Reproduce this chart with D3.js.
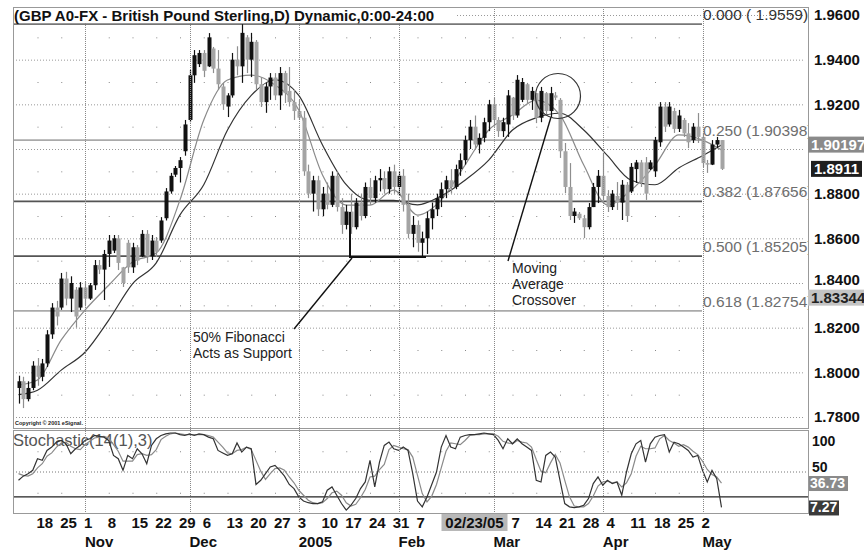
<!DOCTYPE html>
<html>
<head>
<meta charset="utf-8">
<script src="https://cdn.jsdelivr.net/npm/d3@7/dist/d3.min.js"></script>
<style>
body { margin: 0; background: #fff; }
svg { display: block; font-family: Arial, "Liberation Sans", sans-serif; }
</style>
</head>
<body>
<div id="root"></div>
<script>
// trading days (weekdays) shown on the chart
var dates = [
  "2004-10-12","2004-10-13","2004-10-14","2004-10-15","2004-10-18","2004-10-19","2004-10-20","2004-10-21","2004-10-22","2004-10-25","2004-10-26","2004-10-27","2004-10-28","2004-10-29",
  "2004-11-01","2004-11-02","2004-11-03","2004-11-04","2004-11-05","2004-11-08","2004-11-09","2004-11-10","2004-11-11","2004-11-12","2004-11-15","2004-11-16","2004-11-17","2004-11-18","2004-11-19","2004-11-22","2004-11-23","2004-11-24","2004-11-25","2004-11-26","2004-11-29","2004-11-30",
  "2004-12-01","2004-12-02","2004-12-03","2004-12-06","2004-12-07","2004-12-08","2004-12-09","2004-12-10","2004-12-13","2004-12-14","2004-12-15","2004-12-16","2004-12-17","2004-12-20","2004-12-21","2004-12-22","2004-12-23","2004-12-24","2004-12-27","2004-12-28","2004-12-29","2004-12-30","2004-12-31",
  "2005-01-03","2005-01-04","2005-01-05","2005-01-06","2005-01-07","2005-01-10","2005-01-11","2005-01-12","2005-01-13","2005-01-14","2005-01-17","2005-01-18","2005-01-19","2005-01-20","2005-01-21","2005-01-24","2005-01-25","2005-01-26","2005-01-27","2005-01-28","2005-01-31",
  "2005-02-01","2005-02-02","2005-02-03","2005-02-04","2005-02-07","2005-02-08","2005-02-09","2005-02-10","2005-02-11","2005-02-14","2005-02-15","2005-02-16","2005-02-17","2005-02-18","2005-02-21","2005-02-22","2005-02-23","2005-02-24","2005-02-25","2005-02-28",
  "2005-03-01","2005-03-02","2005-03-03","2005-03-04","2005-03-07","2005-03-08","2005-03-09","2005-03-10","2005-03-11","2005-03-14","2005-03-15","2005-03-16","2005-03-17","2005-03-18","2005-03-21","2005-03-22","2005-03-23","2005-03-24","2005-03-25","2005-03-28","2005-03-29","2005-03-30","2005-03-31",
  "2005-04-01","2005-04-04","2005-04-05","2005-04-06","2005-04-07","2005-04-08","2005-04-11","2005-04-12","2005-04-13","2005-04-14","2005-04-15","2005-04-18","2005-04-19","2005-04-20","2005-04-21","2005-04-22","2005-04-25","2005-04-26","2005-04-27","2005-04-28","2005-04-29",
  "2005-05-02","2005-05-03","2005-05-04","2005-05-05","2005-05-06"
];

var open = [
  1.7930,1.7960,1.7880,1.7930,1.8030,1.7980,1.8040,1.8170,1.8290,1.8290,1.8420,1.8330,1.8370,1.8290,
  1.8380,1.8330,1.8390,1.8480,1.8460,1.8530,1.8545,1.8600,1.8470,1.8580,1.8470,1.8560,1.8520,1.8620,1.8520,1.8590,1.8590,1.8690,1.8810,1.8885,1.8915,1.8990,
  1.9130,1.9330,1.9380,1.9430,1.9370,1.9450,1.9360,1.9280,1.9190,1.9240,1.9400,1.9370,1.9500,1.9400,1.9480,1.9290,1.9210,1.9280,1.9320,1.9240,1.9340,1.9260,1.9210,
  1.9170,1.9140,1.8900,1.8800,1.8860,1.8730,1.8800,1.8750,1.8880,1.8740,1.8660,1.8720,1.8650,1.8760,1.8700,1.8830,1.8780,1.8860,1.8870,1.8820,1.8900,
  1.8830,1.8880,1.8750,1.8620,1.8660,1.8580,1.8600,1.8690,1.8730,1.8780,1.8820,1.8860,1.8830,1.8910,1.8950,1.9040,1.9100,1.9020,1.9050,1.9120,
  1.9200,1.9130,1.9080,1.9110,1.9230,1.9150,1.9220,1.9290,1.9220,1.9250,1.9140,1.9250,1.9170,1.9240,1.9220,1.8990,1.8830,1.8700,1.8710,1.8690,1.8650,1.8740,1.8830,
  1.8880,1.8790,1.8740,1.8790,1.8760,1.8840,1.8810,1.8910,1.8940,1.8940,1.8910,1.8900,1.9030,1.9190,1.9110,1.9170,1.9090,1.9130,1.9070,1.9040,1.9100,
  1.9054,1.8937,1.8930,1.9020,1.9040
];
var high = [
  1.7985,1.7980,1.7960,1.8050,1.8064,1.8060,1.8189,1.8310,1.8320,1.8445,1.8450,1.8430,1.8382,1.8404,
  1.8404,1.8400,1.8503,1.8503,1.8548,1.8615,1.8615,1.8615,1.8472,1.8593,1.8580,1.8570,1.8637,1.8637,1.8615,1.8606,1.8695,1.8825,1.8893,1.8924,1.8964,1.9130,
  1.9354,1.9443,1.9443,1.9443,1.9519,1.9457,1.9443,1.9296,1.9250,1.9430,1.9460,1.9559,1.9510,1.9520,1.9488,1.9322,1.9296,1.9340,1.9340,1.9367,1.9350,1.9367,1.9264,
  1.9220,1.9170,1.8930,1.8880,1.8880,1.8830,1.8850,1.8900,1.8900,1.8780,1.8750,1.8800,1.8780,1.8800,1.8850,1.8870,1.8880,1.8910,1.8900,1.8920,1.8930,
  1.8900,1.8910,1.8800,1.8700,1.8680,1.8630,1.8720,1.8760,1.8800,1.8850,1.8880,1.8910,1.8930,1.8980,1.9060,1.9130,1.9150,1.9070,1.9140,1.9220,
  1.9230,1.9143,1.9140,1.9264,1.9233,1.9331,1.9318,1.9296,1.9278,1.9250,1.9278,1.9255,1.9278,1.9255,1.9228,1.9027,1.8937,1.8736,1.8718,1.8705,1.8758,1.8848,1.8906,
  1.8982,1.8816,1.8816,1.8852,1.8861,1.8852,1.8937,1.8951,1.8951,1.8964,1.8950,1.9054,1.9210,1.9210,1.9210,1.9184,1.9175,1.9139,1.9116,1.9116,1.9161,
  1.9072,1.8951,1.9040,1.9054,1.9040
];
var low = [
  1.7860,1.7840,1.7870,1.7920,1.7940,1.7960,1.8024,1.8150,1.8210,1.8280,1.8300,1.8270,1.8200,1.8279,
  1.8301,1.8324,1.8369,1.8440,1.8324,1.8472,1.8534,1.8458,1.8382,1.8445,1.8445,1.8480,1.8516,1.8490,1.8503,1.8516,1.8580,1.8680,1.8800,1.8875,1.8850,1.8970,
  1.9120,1.9296,1.9367,1.9322,1.9367,1.9340,1.9264,1.9175,1.9143,1.9230,1.9330,1.9296,1.9340,1.9322,1.9264,1.9188,1.9162,1.9220,1.9219,1.9175,1.9206,1.9190,1.9130,
  1.9130,1.8880,1.8780,1.8720,1.8700,1.8700,1.8730,1.8740,1.8720,1.8620,1.8640,1.8620,1.8640,1.8680,1.8690,1.8750,1.8760,1.8810,1.8800,1.8800,1.8800,
  1.8790,1.8720,1.8600,1.8560,1.8540,1.8520,1.8530,1.8640,1.8700,1.8740,1.8780,1.8800,1.8820,1.8880,1.8930,1.9000,1.9000,1.8980,1.9030,1.9080,
  1.9100,1.9054,1.9054,1.9054,1.9130,1.9140,1.9210,1.9206,1.9175,1.9116,1.9120,1.9150,1.9143,1.9219,1.8960,1.8803,1.8682,1.8669,1.8682,1.8601,1.8640,1.8740,1.8758,
  1.8772,1.8718,1.8727,1.8727,1.8682,1.8673,1.8803,1.8848,1.8830,1.8772,1.8906,1.8875,1.9010,1.9076,1.9100,1.9072,1.9076,1.9054,1.9004,1.9027,1.9027,
  1.8919,1.8893,1.8928,1.9004,1.8906
];
var close = [
  1.7960,1.7880,1.7930,1.8030,1.7980,1.8040,1.8170,1.8290,1.8250,1.8420,1.8330,1.8400,1.8250,1.8380,
  1.8330,1.8390,1.8480,1.8460,1.8530,1.8590,1.8600,1.8490,1.8400,1.8470,1.8560,1.8500,1.8620,1.8520,1.8590,1.8540,1.8680,1.8810,1.8880,1.8915,1.8950,1.9110,
  1.9330,1.9420,1.9430,1.9350,1.9500,1.9360,1.9290,1.9200,1.9240,1.9400,1.9370,1.9520,1.9400,1.9480,1.9290,1.9210,1.9280,1.9320,1.9240,1.9340,1.9250,1.9210,1.9170,
  1.9140,1.8900,1.8800,1.8860,1.8730,1.8800,1.8750,1.8880,1.8740,1.8660,1.8720,1.8650,1.8760,1.8700,1.8830,1.8780,1.8860,1.8870,1.8820,1.8900,1.8830,
  1.8880,1.8750,1.8620,1.8660,1.8580,1.8600,1.8690,1.8730,1.8780,1.8820,1.8860,1.8830,1.8910,1.8950,1.9040,1.9100,1.9020,1.9050,1.9120,1.9200,
  1.9130,1.9080,1.9120,1.9240,1.9150,1.9310,1.9300,1.9220,1.9260,1.9140,1.9260,1.9170,1.9250,1.9230,1.8990,1.8830,1.8700,1.8720,1.8690,1.8650,1.8740,1.8830,1.8880,
  1.8790,1.8740,1.8800,1.8760,1.8840,1.8700,1.8920,1.8940,1.8850,1.8800,1.8940,1.9040,1.9190,1.9100,1.9190,1.9090,1.9150,1.9070,1.9030,1.9100,1.9054,
  1.8937,1.8930,1.9020,1.9040,1.8911
];

// moving averages, read at the weekly tick dates
var maDates = ["2004-10-12","2004-10-18","2004-10-25","2004-11-01","2004-11-08","2004-11-15","2004-11-22","2004-11-29","2004-12-06","2004-12-13","2004-12-20","2004-12-27",
  "2005-01-03","2005-01-10","2005-01-17","2005-01-24","2005-01-31","2005-02-07","2005-02-14","2005-02-21","2005-02-28","2005-03-07","2005-03-14","2005-03-21","2005-03-28",
  "2005-04-04","2005-04-11","2005-04-18","2005-04-25","2005-05-02","2005-05-06"];
var maFast = [1.7943,1.7966,1.8145,1.8279,1.8390,1.8494,1.8534,1.8772,1.9130,1.9309,1.9331,1.9287,
  1.9175,1.8884,1.8749,1.8749,1.8816,1.8704,1.8772,1.8928,1.9085,1.9152,1.9219,1.9152,1.8928,
  1.8750,1.8816,1.8928,1.9063,1.9040,1.8996];
var maSlow = [1.7900,1.7920,1.8010,1.8090,1.8234,1.8396,1.8490,1.8705,1.8840,1.9085,1.9240,1.9310,
  1.9240,1.9018,1.8840,1.8770,1.8770,1.8750,1.8790,1.8860,1.8950,1.9085,1.9140,1.9160,1.9085,
  1.8970,1.8860,1.8840,1.8915,1.8970,1.9018];

// stochastic %K and %D
var stochK = [40,45,48,52,66,64,76,80,86,88,84,72,78,82,
  88,90,94,93,92,88,70,66,52,70,66,78,72,60,82,90,94,96,97,97,95,94,
  96,94,96,95,92,90,76,73,70,72,85,74,80,78,35,40,48,56,58,52,45,35,30,
  20,15,13,12,12,14,28,32,22,12,4,10,18,30,38,64,32,62,82,86,78,
  76,80,76,48,15,8,20,35,50,80,94,80,78,92,94,95,95,96,97,96,
  95,88,78,90,84,90,84,80,76,40,38,70,74,68,40,12,8,7,8,10,18,36,44,
  34,40,36,38,22,50,72,84,88,62,84,92,94,95,74,86,84,80,76,68,70,
  52,38,52,42,7.27];
var stochD = [48,46,45,48,55,60,69,73,80,85,86,81,78,77,
  83,87,91,92,93,91,83,75,63,63,63,71,72,70,71,77,89,93,96,97,96,95,
  95,95,95,95,94,92,86,80,73,72,76,77,80,77,64,51,41,48,54,55,52,44,37,
  28,22,16,13,12,13,18,25,27,22,13,9,11,19,29,44,45,53,59,77,82,
  80,78,77,68,46,24,14,21,35,55,75,85,84,83,88,94,95,95,96,96,
  96,93,87,85,84,88,86,85,80,65,51,49,61,71,61,40,20,9,8,8,12,21,33,
  38,39,37,38,32,37,48,69,81,78,78,79,90,94,88,85,81,83,80,75,71,
  63,53,47,44,36.73];

// fibonacci retracement levels
var fibRatios = ["0.000","0.250","0.382","0.500","0.618"];
var fibPrices = [1.9559, 1.90398, 1.87656, 1.85205, 1.82754];

// axis ticks (1.9000 is hidden behind the value tags)
var priceTicks = [1.78,1.80,1.82,1.84,1.86,1.88,1.90,1.92,1.94,1.96];
var priceLabels = [1.78,1.80,1.82,1.84,1.86,1.88,1.92,1.94,1.96];
var weekTicks = ["2004-10-18","2004-10-25","2004-11-01","2004-11-08","2004-11-15","2004-11-22","2004-11-29","2004-12-06","2004-12-13","2004-12-20","2004-12-27",
  "2005-01-03","2005-01-10","2005-01-17","2005-01-24","2005-01-31","2005-02-07","2005-02-14","2005-02-21","2005-02-28",
  "2005-03-07","2005-03-14","2005-03-21","2005-03-28","2005-04-04","2005-04-11","2005-04-18","2005-04-25","2005-05-02"];
var weekLabels = ["18","25","1","8","15","22","29","6","13","20","27","3","10","17","24","31","7","","","","7","14","21","28","4","11","18","25","2"];
var monthTicks = ["2004-11-01","2004-12-01","2005-01-03","2005-02-01","2005-03-01","2005-04-01","2005-05-02"];
var monthLabels = ["Nov","Dec","2005","Feb","Mar","Apr","May"];

// last-value tags on the right
var priceTags = [1.90197, 1.8911, 1.83344];
var stochTags = [36.73, 7.27];

var width = 864, height = 550;
var panel = { left: 13, right: 808, top: 7, bottom: 428 };
var lower = { top: 430, bottom: 513 };

var svg = d3.select("#root")
    .append("svg")
    .attr("width", width)
    .attr("height", height);

var x = d3.scalePoint().domain(dates).range([18.5, 721.5]);
var y = d3.scaleLinear().domain([1.78, 1.96]).range([417, 15]);
var ys = d3.scaleLinear().domain([0, 100]).range([513.5, 430.5]);

svg.append("defs").append("clipPath")
    .attr("id", "clipMain")
    .append("rect")
    .attr("x", panel.left).attr("y", panel.top)
    .attr("width", panel.right - panel.left).attr("height", panel.bottom - panel.top);

svg.append("defs").append("clipPath")
    .attr("id", "clipLow")
    .append("rect")
    .attr("x", panel.left).attr("y", lower.top)
    .attr("width", panel.right - panel.left).attr("height", lower.bottom - lower.top);

var main = svg.append("g").attr("clip-path", "url(#clipMain)");
var low2 = svg.append("g").attr("clip-path", "url(#clipLow)");

// dotted price grid
main.selectAll(".hgrid")
    .data(priceTicks)
    .enter().append("line")
    .attr("x1", panel.left).attr("x2", panel.right - 5)
    .attr("y1", d => y(d) + 0.5).attr("y2", d => y(d) + 0.5)
    .attr("stroke", "#999").attr("stroke-dasharray", "1,2");

// sparse dots on the half levels at weekly ticks
var halfLevels = d3.range(0, 9).map(i => priceTicks[i] + 0.01);
halfLevels.forEach(function (lv)
{
    main.selectAll(null)
        .data(weekTicks)
        .enter().append("rect")
        .attr("x", d => x(d)).attr("y", y(lv))
        .attr("width", 1).attr("height", 1)
        .attr("fill", "#888");
});

// month separators through both panels
svg.selectAll(".vgrid")
    .data(monthTicks)
    .enter().append("line")
    .attr("x1", d => Math.round(x(d)) + 0.5).attr("x2", d => Math.round(x(d)) + 0.5)
    .attr("y1", panel.top).attr("y2", lower.bottom)
    .attr("stroke", "#888").attr("stroke-dasharray", "1,1");

// fibonacci lines
var fibColor = ["#777", "#aaa", "#555", "#555", "#aaa"];
main.selectAll(".fib")
    .data(fibPrices)
    .enter().append("line")
    .attr("x1", panel.left).attr("x2", 702)
    .attr("y1", d => y(d)).attr("y2", d => y(d))
    .attr("stroke", (d, i) => fibColor[i]).attr("stroke-width", 1.6);

main.selectAll(".fibLabel")
    .data(fibPrices)
    .enter().append("text")
    .attr("x", 703).attr("y", d => y(d) - 4)
    .attr("font-size", "15.5px")
    .attr("fill", (d, i) => i == 0 ? "#333" : "#6e6e6e")
    .text((d, i) => i == 0 ? fibRatios[i] + " ( " + d + ")" : fibRatios[i] + " (" + d + ")");

// moving averages
var maLine = (vals) => d3.line()
    .x((d, i) => x(maDates[i]))
    .y(d => y(d))
    .curve(d3.curveMonotoneX)(vals);

main.append("path")
    .attr("d", maLine(maSlow))
    .attr("fill", "none").attr("stroke", "#333").attr("stroke-width", 1.2);
main.append("path")
    .attr("d", maLine(maFast))
    .attr("fill", "none").attr("stroke", "#8a8a8a").attr("stroke-width", 1.2);

// candlesticks
var candles = main.selectAll(".candle")
    .data(dates)
    .enter().append("g");

candles.append("line")
    .attr("x1", d => Math.round(x(d)) + 0.5).attr("x2", d => Math.round(x(d)) + 0.5)
    .attr("y1", (d, i) => y(high[i])).attr("y2", (d, i) => y(low[i]))
    .attr("stroke", (d, i) => close[i] >= open[i] ? "#111" : "#8e8e8e")
    .attr("stroke-width", 1.2);

candles.append("rect")
    .attr("x", d => Math.round(x(d)) - 1.5)
    .attr("width", 4)
    .attr("y", (d, i) => y(Math.max(open[i], close[i])))
    .attr("height", (d, i) => Math.max(1, Math.abs(y(open[i]) - y(close[i]))))
    .attr("fill", (d, i) => close[i] >= open[i] ? "#111" : "#a4a4a4");

// title on its white box
svg.append("rect")
    .attr("x", panel.left + 1).attr("y", panel.top + 1)
    .attr("width", 442).attr("height", 15)
    .attr("fill", "#fff");
svg.append("text")
    .attr("x", 14).attr("y", 21)
    .attr("font-size", "15px").attr("font-weight", "bold")
    .attr("fill", "#111")
    .text("(GBP A0-FX - British Pound Sterling,D) Dynamic,0:00-24:00");

svg.append("text")
    .attr("x", 15).attr("y", 425)
    .attr("font-size", "5.5px").attr("font-weight", "bold").attr("fill", "#222")
    .text("Copyright © 2001 eSignal.");

// annotations
svg.append("path")
    .attr("d", "M350,212V257H426")
    .attr("fill", "none").attr("stroke", "#111").attr("stroke-width", 2);
svg.append("line")
    .attr("x1", 352).attr("y1", 258).attr("x2", 294).attr("y2", 329)
    .attr("stroke", "#111").attr("stroke-width", 1.4);
svg.append("line")
    .attr("x1", 508).attr("y1", 261).attr("x2", 551).attr("y2", 117)
    .attr("stroke", "#111").attr("stroke-width", 1.4);
svg.append("circle")
    .attr("cx", 558).attr("cy", 96).attr("r", 22.5)
    .attr("fill", "none").attr("stroke", "#333").attr("stroke-width", 1.2);

var note = svg.append("g")
    .attr("font-size", "14px").attr("fill", "#222");
note.append("text").attr("x", 193).attr("y", 342).text("50% Fibonacci");
note.append("text").attr("x", 193).attr("y", 358).text("Acts as Support");
note.append("text").attr("x", 512).attr("y", 273).text("Moving");
note.append("text").attr("x", 512).attr("y", 289).text("Average");
note.append("text").attr("x", 512).attr("y", 305).text("Crossover");

// panel frames
svg.append("rect")
    .attr("x", panel.left + 0.5).attr("y", panel.top + 0.5)
    .attr("width", panel.right - panel.left).attr("height", panel.bottom - panel.top)
    .attr("fill", "none").attr("stroke", "#999");
svg.append("rect")
    .attr("x", panel.left + 0.5).attr("y", lower.top + 0.5)
    .attr("width", panel.right - panel.left).attr("height", lower.bottom - lower.top)
    .attr("fill", "none").attr("stroke", "#999");

// right price axis
var yAxis = svg.append("g")
    .attr("transform", "translate(" + (panel.right + 5) + ",0)")
    .call(d3.axisRight(y).tickValues(priceLabels).tickSize(0).tickFormat(d3.format(".4f")));
yAxis.select(".domain").remove();
yAxis.selectAll("text")
    .attr("x", 1)
    .attr("dy", d => d == 1.84 ? "0.1em" : "0.32em")
    .attr("font-size", "15px").attr("font-weight", "bold")
    .attr("font-family", "Arial, 'Liberation Sans', sans-serif")
    .attr("fill", "#111");

// price tags
var tagStyle = [
    { fill: "#8a8a8a", text: "#fff", x: panel.right, w: 56 },
    { fill: "#1e1e1e", text: "#fff", x: panel.right + 3, w: 51 },
    { fill: "#c4c4c4", text: "#222", x: panel.right, w: 56 }
];
var tags = svg.selectAll(".tag")
    .data(priceTags)
    .enter().append("g");
tags.append("rect")
    .attr("x", (d, i) => tagStyle[i].x).attr("y", d => y(d) - 8)
    .attr("width", (d, i) => tagStyle[i].w).attr("height", 16)
    .attr("fill", (d, i) => tagStyle[i].fill);
tags.append("text")
    .attr("x", (d, i) => tagStyle[i].x + 3).attr("y", d => y(d) + 5)
    .attr("font-size", "15px").attr("font-weight", "bold")
    .attr("fill", (d, i) => tagStyle[i].text)
    .text(d => d);

// stochastic panel
low2.append("line")
    .attr("x1", panel.left).attr("x2", panel.right)
    .attr("y1", ys(50)).attr("y2", ys(50))
    .attr("stroke", "#777").attr("stroke-dasharray", "1,2");
[75, 25].forEach(function (lv)
{
    low2.selectAll(null)
        .data(weekTicks)
        .enter().append("rect")
        .attr("x", d => x(d)).attr("y", ys(lv))
        .attr("width", 1).attr("height", 1)
        .attr("fill", "#888");
});
low2.append("line")
    .attr("x1", panel.left).attr("x2", panel.right)
    .attr("y1", ys(20)).attr("y2", ys(20))
    .attr("stroke", "#222").attr("stroke-width", 1.4);

low2.append("text")
    .attr("x", 13).attr("y", 446)
    .attr("font-size", "16.5px").attr("fill", "#555")
    .text("Stochastic(14(1),3)");

var stochLine = d3.line()
    .x((d, i) => x(dates[i]))
    .y(d => ys(d));
low2.append("path")
    .datum(stochD)
    .attr("d", stochLine)
    .attr("fill", "none").attr("stroke", "#8a8a8a").attr("stroke-width", 1.2);
low2.append("path")
    .datum(stochK)
    .attr("d", stochLine)
    .attr("fill", "none").attr("stroke", "#333").attr("stroke-width", 1.2);

var sAxis = svg.append("g")
    .attr("transform", "translate(" + (panel.right + 4) + ",0)")
    .call(d3.axisRight(ys).tickValues([100, 50]).tickSize(0));
sAxis.select(".domain").remove();
sAxis.selectAll("text")
    .attr("x", 0)
    .attr("dy", d => d == 100 ? "1.05em" : "-0.05em")
    .attr("font-size", "14px").attr("font-weight", "bold")
    .attr("font-family", "Arial, 'Liberation Sans', sans-serif")
    .attr("fill", "#111");

var sTagFill = ["#8a8a8a", "#3a3a3a"];
var sTags = svg.selectAll(".stag")
    .data(stochTags)
    .enter().append("g");
sTags.append("rect")
    .attr("x", panel.right + 1).attr("y", d => ys(d) - 7)
    .attr("width", (d, i) => i == 0 ? 39 : 30).attr("height", 15)
    .attr("fill", (d, i) => sTagFill[i]);
sTags.append("text")
    .attr("x", panel.right + 2).attr("y", d => ys(d) + 5)
    .attr("font-size", "14px").attr("font-weight", "bold").attr("fill", "#fff")
    .text(d => d);

// bottom date axis
svg.selectAll(".wk")
    .data(weekTicks)
    .enter().append("text")
    .attr("x", d => x(d) - 1).attr("y", 528)
    .attr("font-size", "15px").attr("font-weight", "bold").attr("fill", "#111")
    .text((d, i) => weekLabels[i]);

svg.selectAll(".mo")
    .data(monthTicks)
    .enter().append("text")
    .attr("x", d => x(d)).attr("y", 547)
    .attr("font-size", "15px").attr("font-weight", "bold").attr("fill", "#111")
    .text((d, i) => monthLabels[i]);

// cursor date box
var cursorDate = "2005-02-23";
svg.append("rect")
    .attr("x", x(cursorDate) - 33).attr("y", 514)
    .attr("width", 66).attr("height", 17)
    .attr("fill", "#b8b8b8");
svg.append("text")
    .attr("x", x(cursorDate)).attr("y", 528)
    .attr("text-anchor", "middle")
    .attr("font-size", "15px").attr("font-weight", "bold").attr("fill", "#111")
    .text("02/23/05");
</script>
</body>
</html>
